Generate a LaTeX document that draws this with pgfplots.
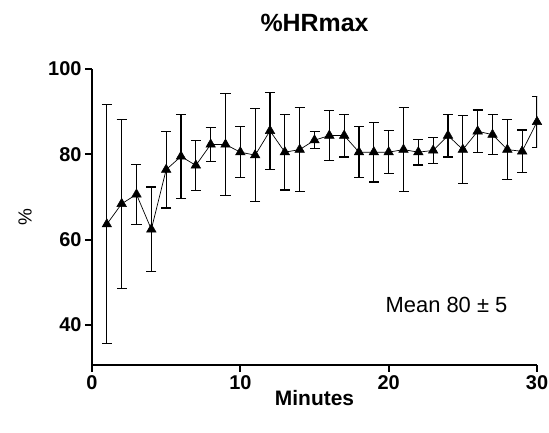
\documentclass[border=0pt]{standalone}
\usepackage{fontspec}
\setmainfont{Liberation Sans}
\usepackage{pgfplots}
\pgfplotsset{compat=1.18}

\pgfplotstableread{
x y err
1 63.6 28.0
2 68.4 19.8
3 70.6 7.0
4 62.4 9.9
5 76.4 9.0
6 79.5 9.8
7 77.4 5.9
8 82.3 4.0
9 82.3 12.0
10 80.5 6.0
11 79.8 10.9
12 85.5 9.0
13 80.5 8.9
14 81.1 9.8
15 83.3 2.0
16 84.4 5.9
17 84.4 5.0
18 80.5 6.0
19 80.5 7.0
20 80.5 5.0
21 81.1 9.8
22 80.5 3.0
23 80.9 3.0
24 84.4 5.0
25 81.1 8.0
26 85.4 5.0
27 84.6 4.7
28 81.1 7.0
29 80.7 5.0
30 87.6 6.0
}\hrdata

\begin{document}
\begin{tikzpicture}
\useasboundingbox (-92bp,-68bp) rectangle (457bp,365bp);
\begin{axis}[
  at={(0,0)}, anchor=south west,
  scale only axis, width=445bp, height=296bp,
  xmin=0, xmax=30, ymin=30.6, ymax=100,
  axis x line*=bottom, axis y line*=left,
  axis line style={line width=1.8bp, -},
  xtick={0,10,20,30}, ytick={40,60,80,100},
  tick align=outside, major tick length=7bp,
  tick style={line width=1.8bp, black},
  ticklabel style={font=\bfseries\fontsize{20}{20}\selectfont},
  /pgf/number format/assume math mode=true,
  title={\%HRmax},
  title style={font=\bfseries\fontsize{25}{25}\selectfont, at={(0.5,1)}, anchor=center, yshift=40bp},
  xlabel={Minutes},
  xlabel style={font=\bfseries\fontsize{21}{21}\selectfont, at={(0.5,0)}, anchor=center, yshift=-33bp},
  clip mode=individual,
]
\addplot[black, line width=0.7bp, mark=triangle*, mark size=5.5bp,
  mark options={solid, line width=0.5bp},
  error bars/.cd, y dir=both, y explicit,
  error bar style={line width=1.3bp, black},
  error mark options={rotate=90, mark size=5bp, line width=1.3bp, black}]
  table[x=x, y=y, y error=err] {\hrdata};
\node[font=\fontsize{22}{22}\selectfont] at (axis cs:23.9,44.7) {Mean 80 ± 5};
\node[font=\fontsize{19}{19}\selectfont, rotate=90, xshift=0bp] at ([xshift=-67bp]rel axis cs:0,0.5) {\%};
\end{axis}
\end{tikzpicture}
\end{document}
